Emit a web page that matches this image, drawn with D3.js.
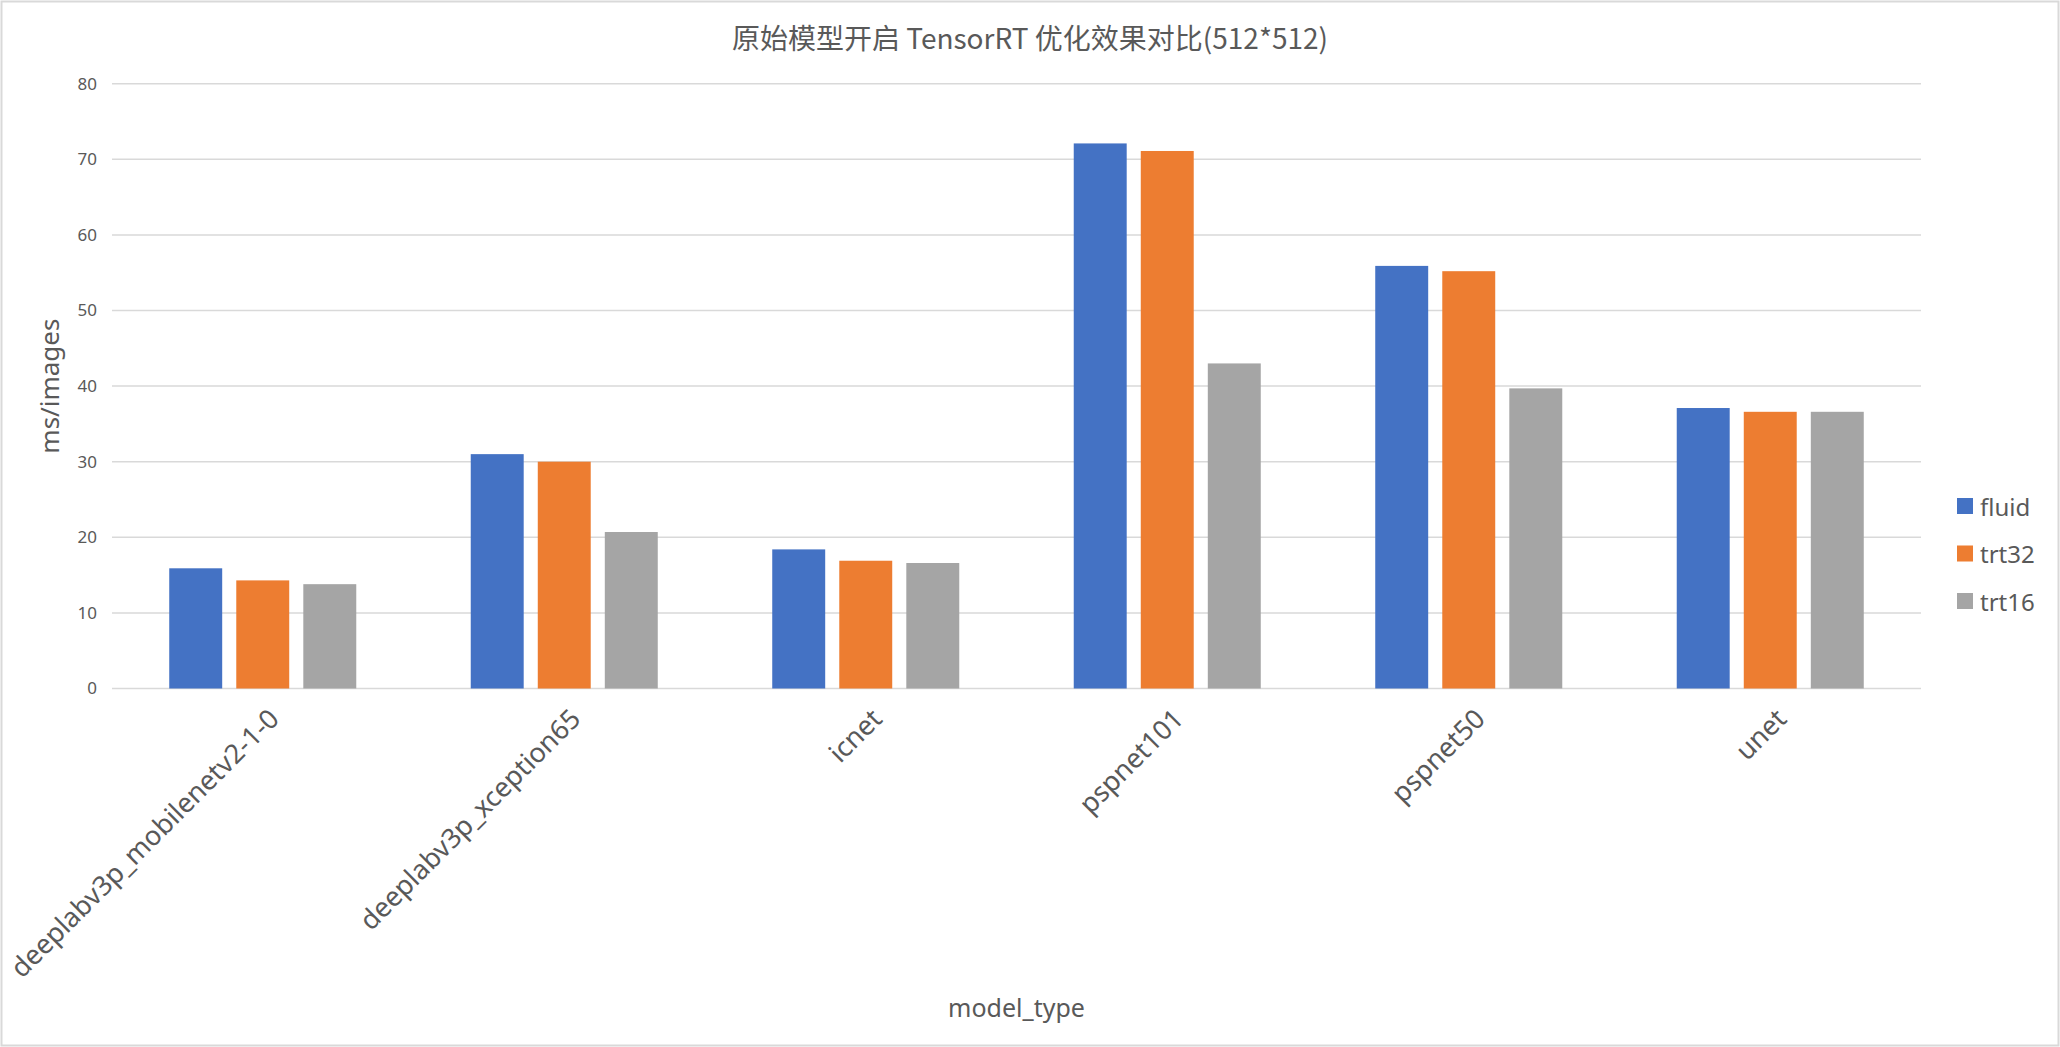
<!DOCTYPE html>
<html>
<head>
<meta charset="utf-8">
<script src="https://cdn.jsdelivr.net/npm/d3@7"></script>
<style>
  html, body { margin: 0; padding: 0; background: #fff; }
  svg text { font-family: "Noto Sans", "Open Sans", sans-serif; fill: #595959; }
</style>
</head>
<body>
<svg id="chart" width="2060" height="1047"></svg>
<script>
const models = ["deeplabv3p_mobilenetv2-1-0", "deeplabv3p_xception65", "icnet", "pspnet101", "pspnet50", "unet"];
const seriesNames = ["fluid", "trt32", "trt16"];
const fluid = [15.9, 31.0, 18.4, 72.1, 55.9, 37.1];
const trt32 = [14.3, 30.0, 16.9, 71.1, 55.2, 36.6];
const trt16 = [13.8, 20.7, 16.6, 43.0, 39.7, 36.6];
const yTicks = [0, 10, 20, 30, 40, 50, 60, 70, 80];
const colors = ["#4472C4", "#ED7D31", "#A5A5A5"];

const seriesValues = [fluid, trt32, trt16];

const svg = d3.select("#chart");
const width = 2060, height = 1047;
const plot = { left: 112, right: 1921, top: 83.7, bottom: 688.5 };

// outer chart border
svg.append("rect")
    .attr("x", 1.5).attr("y", 1.5)
    .attr("width", width - 3).attr("height", height - 3)
    .attr("fill", "#fff")
    .attr("stroke", "#d9d9d9")
    .attr("stroke-width", 2);

const x0 = d3.scaleBand()
    .domain(models)
    .range([plot.left, plot.right])
    .padding(0);

// three bars per group, group takes ~2/3 of the band
const groupW = x0.bandwidth() * 0.667;
const x1 = d3.scaleBand()
    .domain(seriesNames)
    .range([(x0.bandwidth() - groupW) / 2, (x0.bandwidth() + groupW) / 2])
    .paddingInner(0.21)
    .paddingOuter(0.105);

const y = d3.scaleLinear()
    .domain([0, 80])
    .range([plot.bottom, plot.top]);

// gridlines
svg.append("g")
    .selectAll("line")
    .data(yTicks)
    .join("line")
    .attr("x1", plot.left)
    .attr("x2", plot.right)
    .attr("y1", d => y(d))
    .attr("y2", d => y(d))
    .attr("stroke", "#d9d9d9")
    .attr("stroke-width", 1.5);

// y axis labels
const yAxis = d3.axisLeft(y).tickValues(yTicks).tickSize(0).tickPadding(15);
const yg = svg.append("g")
    .attr("transform", `translate(${plot.left},0)`)
    .call(yAxis);
yg.select(".domain").remove();
yg.selectAll("text")
    .attr("font-size", 17)
    .attr("font-family", "Noto Sans, sans-serif")
    .attr("fill", "#595959");

// bars
const rows = models.map((m, i) => ({
    model: m,
    vals: seriesNames.map((s, j) => ({ key: s, value: seriesValues[j][i], color: colors[j] }))
}));

svg.append("g")
    .selectAll("g")
    .data(rows)
    .join("g")
    .attr("transform", d => `translate(${x0(d.model)},0)`)
    .selectAll("rect")
    .data(d => d.vals)
    .join("rect")
    .attr("x", d => x1(d.key))
    .attr("width", x1.bandwidth())
    .attr("y", d => y(d.value))
    .attr("height", d => y(0) - y(d.value))
    .attr("fill", d => d.color);

// x axis labels, rotated
const xAxis = d3.axisBottom(x0).tickSize(0).tickPadding(0);
const xg = svg.append("g")
    .attr("transform", `translate(0,${plot.bottom})`)
    .call(xAxis);
xg.select(".domain").remove();
xg.selectAll("text")
    .attr("font-size", 27)
    .attr("font-family", "Noto Sans, sans-serif")
    .attr("fill", "#595959")
    .attr("text-anchor", "end")
    .attr("dy", null)
    .attr("y", 0)
    .attr("transform", "translate(18,32) rotate(-45)");

// title
svg.append("text")
    .attr("x", 1030)
    .attr("y", 49)
    .attr("text-anchor", "middle")
    .attr("font-size", 28)
    .style("font-family", "'Noto Sans CJK SC', 'Noto Sans', sans-serif")
    .text("原始模型开启 TensorRT 优化效果对比(512*512)");

// axis titles
svg.append("text")
    .attr("transform", `translate(59,${(plot.top + plot.bottom) / 2}) rotate(-90)`)
    .attr("text-anchor", "middle")
    .attr("font-size", 26)
    .text("ms/images");

svg.append("text")
    .attr("x", (plot.left + plot.right) / 2)
    .attr("y", 1017)
    .attr("text-anchor", "middle")
    .attr("font-size", 25)
    .text("model_type");

// legend
const legend = svg.append("g")
    .attr("transform", "translate(1957,506)");
const items = legend.selectAll("g")
    .data(seriesNames)
    .join("g")
    .attr("transform", (d, i) => `translate(0,${i * 47.5})`);
items.append("rect")
    .attr("x", 0)
    .attr("y", -8)
    .attr("width", 16)
    .attr("height", 16)
    .attr("fill", (d, i) => colors[i]);
items.append("text")
    .attr("x", 23)
    .attr("y", 0)
    .attr("dominant-baseline", "central")
    .attr("font-size", 24)
    .text(d => d);
</script>
</body>
</html>
